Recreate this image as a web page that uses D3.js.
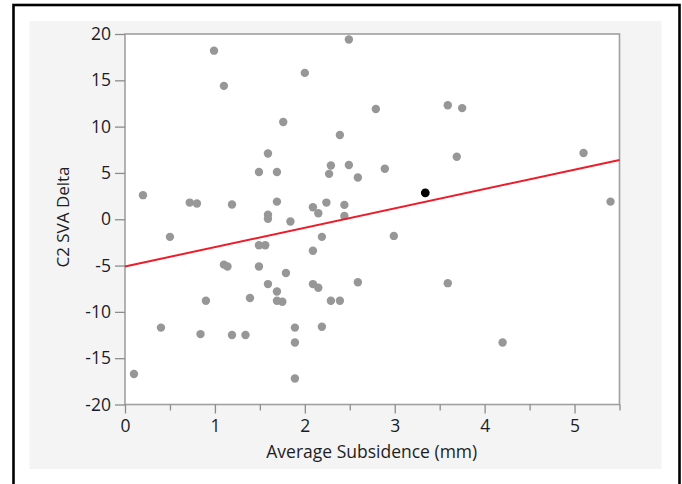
<!DOCTYPE html>
<html>
<head>
<meta charset="utf-8">
<script src="https://cdn.jsdelivr.net/npm/d3@7"></script>
<style>
  html, body { margin: 0; padding: 0; background: #ffffff; }
  svg { display: block; }
  text { font-family: "Open Sans", "Noto Sans", sans-serif; }
</style>
</head>
<body>
<svg id="chart" width="682" height="484"></svg>
<script>
// ---- data ----
const subsidence = [0.2, 0.1, 0.4, 0.5, 0.72, 0.8, 0.84, 0.9, 0.99, 1.1, 1.1, 1.14, 1.19, 1.19, 1.34, 1.39,
  1.49, 1.49, 1.49, 1.56, 1.59, 1.59, 1.59, 1.59, 1.69, 1.69, 1.69, 1.69, 1.76, 1.75, 1.79, 1.84,
  1.89, 1.89, 1.89, 2.0, 2.09, 2.09, 2.09, 2.15, 2.15, 2.19, 2.19, 2.24, 2.27, 2.29, 2.29, 2.39,
  2.39, 2.44, 2.44, 2.49, 2.49, 2.59, 2.59, 2.79, 2.89, 2.99, 3.59, 3.59, 3.69, 3.75, 4.2, 5.1, 5.4];
const svaDelta = [2.6, -16.7, -11.7, -1.9, 1.8, 1.7, -12.4, -8.8, 18.2, 14.4, -4.9, -5.1, 1.6, -12.5, -12.5, -8.5,
  5.1, -2.8, -5.1, -2.8, 7.1, 0.5, 0.05, -7.0, 5.1, 1.9, -7.8, -8.8, 10.5, -8.9, -5.8, -0.25,
  -11.7, -13.3, -17.2, 15.8, 1.3, -3.4, -7.0, 0.65, -7.4, -1.9, -11.6, 1.8, 4.9, 5.8, -8.8, 9.1,
  -8.8, 1.55, 0.36, 19.4, 5.85, 4.5, -6.8, 11.9, 5.45, -1.8, 12.3, -6.9, 6.75, 12.0, -13.3, 7.15, 1.9];
const highlightX = [3.34];
const highlightY = [2.85];
const fitX = [0, 5.5];
const fitY = [-5.1, 6.4];
const xMajorTicks = [0, 1, 2, 3, 4, 5];
const xMinorTicks = [0.5, 1.5, 2.5, 3.5, 4.5, 5.5];
const yTicks = [-20, -15, -10, -5, 0, 5, 10, 15, 20];
const xTitle = "Average Subsidence (mm)";
const yTitle = "C2 SVA Delta";

// ---- layout ----
const svg = d3.select("#chart");
const plot = { left: 125, right: 619.5, top: 34, bottom: 404.5 };

// outer black frame
svg.append("rect").attr("x", 13.5).attr("y", 5).attr("width", 666).attr("height", 490)
  .attr("fill", "#ffffff").attr("stroke", "#000").attr("stroke-width", 2.6);
// gray panel
svg.append("rect").attr("x", 29.5).attr("y", 21).attr("width", 632).attr("height", 448)
  .attr("fill", "#f4f4f4");
// white plot area
svg.append("rect").attr("x", plot.left).attr("y", plot.top)
  .attr("width", plot.right - plot.left).attr("height", plot.bottom - plot.top)
  .attr("fill", "#ffffff").attr("stroke", "#a0a0a0").attr("stroke-width", 1.6);

const x = d3.scaleLinear().domain([0, 5.5]).range([plot.left, plot.right]);
const y = d3.scaleLinear().domain([-20, 20]).range([plot.bottom, plot.top]);

const tickColor = "#8c8c8c";
const labelColor = "#1c1c28";
const fmt = d => String(d);

// y axis
const gy = svg.append("g").attr("transform", `translate(${plot.left},0)`)
  .call(d3.axisLeft(y).tickValues(yTicks).tickSize(10).tickPadding(4).tickFormat(fmt));
gy.select(".domain").remove();
gy.selectAll(".tick line").attr("stroke", tickColor).attr("stroke-width", 1.3);
gy.selectAll(".tick text").attr("fill", labelColor).style("font-size", "17.5px")
  .style("font-family", "'Open Sans', sans-serif");

// x axis minor ticks
const gxm = svg.append("g").attr("transform", `translate(0,${plot.bottom})`)
  .call(d3.axisBottom(x).tickValues(xMinorTicks).tickSize(6).tickFormat(""));
gxm.select(".domain").remove();
gxm.selectAll(".tick line").attr("stroke", tickColor).attr("stroke-width", 1.3);

// x axis major ticks
const gx = svg.append("g").attr("transform", `translate(0,${plot.bottom})`)
  .call(d3.axisBottom(x).tickValues(xMajorTicks).tickSize(9).tickPadding(6).tickFormat(fmt));
gx.select(".domain").remove();
gx.selectAll(".tick line").attr("stroke", tickColor).attr("stroke-width", 1.3);
gx.selectAll(".tick text").attr("fill", labelColor).style("font-size", "17.5px")
  .style("font-family", "'Open Sans', sans-serif");

// axis titles
svg.append("text").attr("x", (plot.left + plot.right) / 2 - 0.5).attr("y", 458)
  .attr("text-anchor", "middle").attr("fill", "#1e1e1e")
  .style("font-size", "17.5px").text(xTitle);
svg.append("text").attr("transform", "translate(69,217) rotate(-90)")
  .attr("text-anchor", "middle").attr("fill", "#1e1e1e")
  .style("font-size", "17px").text(yTitle);

// points
const pts = subsidence.map((v, i) => ({ x: v, y: svaDelta[i] }));
svg.append("g").selectAll("circle").data(pts).join("circle")
  .attr("cx", d => x(d.x)).attr("cy", d => y(d.y)).attr("r", 4.2)
  .attr("fill", "#979797");

// fit line
const line = d3.line().x(d => x(d[0])).y(d => y(d[1]));
svg.append("path").datum(fitX.map((v, i) => [v, fitY[i]]))
  .attr("d", line).attr("fill", "none").attr("stroke", "#ee1c2a").attr("stroke-width", 2);

// highlighted point
svg.append("g").selectAll("circle").data(highlightX.map((v, i) => ({ x: v, y: highlightY[i] })))
  .join("circle")
  .attr("cx", d => x(d.x)).attr("cy", d => y(d.y)).attr("r", 4.4).attr("fill", "#000");
</script>
</body>
</html>
